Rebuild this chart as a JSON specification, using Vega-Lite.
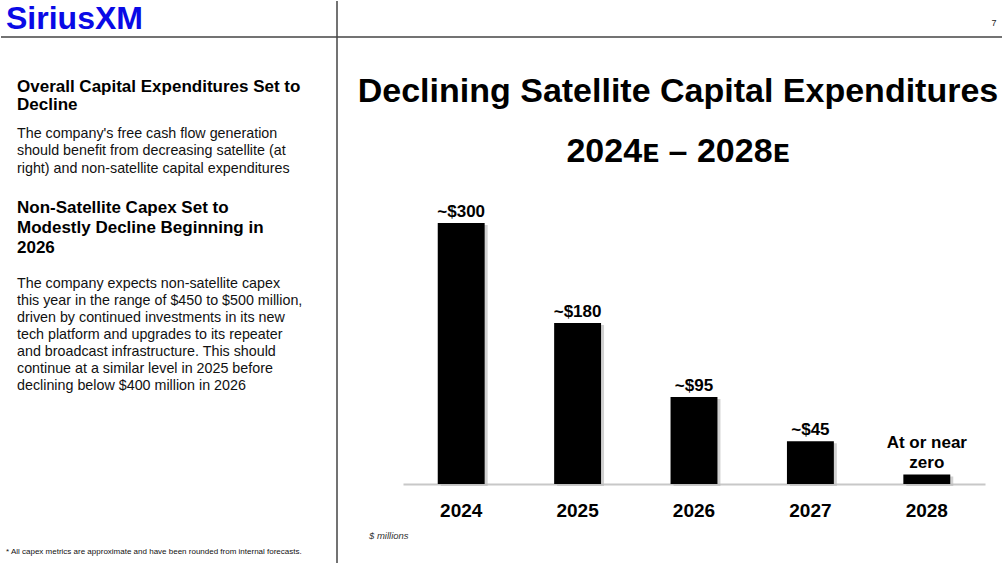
{
  "$schema": "https://vega.github.io/schema/vega-lite/v6.json",
  "background": "white",
  "padding": 0,
  "spacing": 0,
  "bounds": "flush",
  "columns": 2,
  "config": {
    "view": {"stroke": null},
    "font": "Liberation Sans",
    "text": {"font": "Liberation Sans"},
    "concat": {"spacing": 0}
  },
  "concat": [
    {
      "width": 336,
      "height": 36,
      "data": {"values": [{"logo": "SiriusXM"}]},
      "layer": [
        {
          "mark": {"type": "rule", "stroke": "#444444", "strokeWidth": 1.5},
          "encoding": {"y": {"datum": 36, "type": "quantitative", "scale": {"domain": [0, 36], "range": [0, 36]}, "axis": null}}
        },
        {
          "mark": {"type": "rule", "stroke": "#444444", "strokeWidth": 1.5},
          "encoding": {"x": {"datum": 336, "type": "quantitative", "scale": {"domain": [0, 336], "range": [0, 336]}, "axis": null}}
        },
        {
          "mark": {"type": "text", "align": "left", "baseline": "alphabetic", "fontSize": 32, "fontWeight": "bold", "color": "#0a0ae6"},
          "encoding": {
            "text": {"field": "logo"},
            "x": {"datum": 5, "type": "quantitative", "scale": {"domain": [0, 336], "range": [0, 336]}, "axis": null},
            "y": {"datum": 28, "type": "quantitative", "scale": {"domain": [0, 36], "range": [0, 36]}, "axis": null}
          }
        }
      ]
    },
    {
      "width": 666,
      "height": 36,
      "data": {"values": [{"page": "7"}]},
      "layer": [
        {
          "mark": {"type": "rule", "stroke": "#444444", "strokeWidth": 1.5},
          "encoding": {"y": {"datum": 36, "type": "quantitative", "scale": {"domain": [0, 36], "range": [0, 36]}, "axis": null}}
        },
        {
          "mark": {"type": "text", "align": "center", "baseline": "alphabetic", "fontSize": 9, "color": "#222222"},
          "encoding": {
            "text": {"field": "page"},
            "x": {"datum": 657, "type": "quantitative", "scale": {"domain": [0, 666], "range": [0, 666]}, "axis": null},
            "y": {"datum": 25, "type": "quantitative", "scale": {"domain": [0, 36], "range": [0, 36]}, "axis": null}
          }
        }
      ]
    },
    {
      "width": 336,
      "height": 527,
      "data": {"values": [
        {"block": "heading1", "lines": ["Overall Capital Expenditures Set to", "Decline"]},
        {"block": "body1", "lines": ["The company's free cash flow generation", "should benefit from decreasing satellite (at", "right) and non-satellite capital expenditures"]},
        {"block": "heading2", "lines": ["Non-Satellite Capex Set to", "Modestly Decline Beginning in", "2026"]},
        {"block": "body2", "lines": ["The company expects non-satellite capex", "this year in the range of $450 to $500 million,", "driven by continued investments in its new", "tech platform and upgrades to its repeater", "and broadcast infrastructure. This should", "continue at a similar level in 2025 before", "declining below $400 million in 2026"]},
        {"block": "footnote", "lines": ["* All capex metrics are approximate and have been rounded from internal forecasts."]}
      ]},
      "layer": [
        {
          "transform": [{"filter": "datum.block === 'heading1'"}],
          "mark": {"type": "rule", "stroke": "#444444", "strokeWidth": 1.5},
          "encoding": {"x": {"datum": 336, "type": "quantitative", "scale": {"domain": [0, 336], "range": [0, 336]}, "axis": null}}
        },
        {
          "transform": [{"filter": "datum.block === 'heading1'"}],
          "mark": {"type": "text", "align": "left", "baseline": "alphabetic", "fontSize": 17, "fontWeight": "bold", "color": "#000000", "lineHeight": 18},
          "encoding": {
            "text": {"field": "lines"},
            "x": {"datum": 16, "type": "quantitative", "scale": {"domain": [0, 336], "range": [0, 336]}, "axis": null},
            "y": {"datum": 55, "type": "quantitative", "scale": {"domain": [0, 527], "range": [0, 527]}, "axis": null}
          }
        },
        {
          "transform": [{"filter": "datum.block === 'body1'"}],
          "mark": {"type": "text", "align": "left", "baseline": "alphabetic", "fontSize": 14.3, "color": "#111111", "lineHeight": 17.3},
          "encoding": {
            "text": {"field": "lines"},
            "x": {"datum": 16, "type": "quantitative", "scale": {"domain": [0, 336], "range": [0, 336]}, "axis": null},
            "y": {"datum": 101, "type": "quantitative", "scale": {"domain": [0, 527], "range": [0, 527]}, "axis": null}
          }
        },
        {
          "transform": [{"filter": "datum.block === 'heading2'"}],
          "mark": {"type": "text", "align": "left", "baseline": "alphabetic", "fontSize": 17, "fontWeight": "bold", "color": "#000000", "lineHeight": 20},
          "encoding": {
            "text": {"field": "lines"},
            "x": {"datum": 16, "type": "quantitative", "scale": {"domain": [0, 336], "range": [0, 336]}, "axis": null},
            "y": {"datum": 176, "type": "quantitative", "scale": {"domain": [0, 527], "range": [0, 527]}, "axis": null}
          }
        },
        {
          "transform": [{"filter": "datum.block === 'body2'"}],
          "mark": {"type": "text", "align": "left", "baseline": "alphabetic", "fontSize": 14.3, "color": "#111111", "lineHeight": 17},
          "encoding": {
            "text": {"field": "lines"},
            "x": {"datum": 16, "type": "quantitative", "scale": {"domain": [0, 336], "range": [0, 336]}, "axis": null},
            "y": {"datum": 251, "type": "quantitative", "scale": {"domain": [0, 527], "range": [0, 527]}, "axis": null}
          }
        },
        {
          "transform": [{"filter": "datum.block === 'footnote'"}],
          "mark": {"type": "text", "align": "left", "baseline": "alphabetic", "fontSize": 8, "color": "#111111"},
          "encoding": {
            "text": {"field": "lines"},
            "x": {"datum": 5, "type": "quantitative", "scale": {"domain": [0, 336], "range": [0, 336]}, "axis": null},
            "y": {"datum": 517, "type": "quantitative", "scale": {"domain": [0, 527], "range": [0, 527]}, "axis": null}
          }
        }
      ]
    },
    {
      "width": 666,
      "height": 527,
      "data": {"values": [
        {"year": "2024", "capex": 300, "label": "~$300", "label_top": ""},
        {"year": "2025", "capex": 185, "label": "~$180", "label_top": ""},
        {"year": "2026", "capex": 100, "label": "~$95", "label_top": ""},
        {"year": "2027", "capex": 49, "label": "~$45", "label_top": ""},
        {"year": "2028", "capex": 11, "label": "zero", "label_top": "At or near"}
      ]},
      "resolve": {"scale": {"x": "independent", "y": "independent"}},
      "layer": [
        {
          "mark": {"type": "bar", "color": "#bdbdbd", "opacity": 0.7, "xOffset": 3, "yOffset": 2},
          "encoding": {
            "x": {"field": "year", "type": "nominal", "scale": {"type": "band", "domain": ["2024", "2025", "2026", "2027", "2028"], "range": [66, 648], "paddingInner": 0.597, "paddingOuter": 0.2985}, "axis": null},
            "y": {"field": "capex", "type": "quantitative", "scale": {"domain": [0, 300], "range": [447, 186], "nice": false, "zero": true}, "axis": null}
          }
        },
        {
          "mark": {"type": "bar", "color": "#000000"},
          "encoding": {
            "x": {
              "field": "year", "type": "nominal",
              "scale": {"type": "band", "domain": ["2024", "2025", "2026", "2027", "2028"], "range": [66, 648], "paddingInner": 0.597, "paddingOuter": 0.2985},
              "axis": {"orient": "bottom", "offset": -80, "title": null, "domainColor": "#c8c8c8", "domainWidth": 2, "ticks": false, "grid": false, "labelAngle": 0, "labelFont": "Liberation Sans", "labelFontSize": 19, "labelFontWeight": "bold", "labelColor": "#000000", "labelPadding": 17}
            },
            "y": {"field": "capex", "type": "quantitative", "scale": {"domain": [0, 300], "range": [447, 186], "nice": false, "zero": true}, "axis": null}
          }
        },
        {
          "mark": {"type": "text", "align": "center", "baseline": "bottom", "dy": -2, "fontSize": 17, "fontWeight": "bold", "color": "#000000"},
          "encoding": {
            "text": {"field": "label"},
            "x": {"field": "year", "type": "nominal", "scale": {"type": "band", "domain": ["2024", "2025", "2026", "2027", "2028"], "range": [66, 648], "paddingInner": 0.597, "paddingOuter": 0.2985}, "axis": null},
            "y": {"field": "capex", "type": "quantitative", "scale": {"domain": [0, 300], "range": [447, 186], "nice": false, "zero": true}, "axis": null}
          }
        },
        {
          "mark": {"type": "text", "align": "center", "baseline": "bottom", "dy": -22, "fontSize": 17, "fontWeight": "bold", "color": "#000000"},
          "encoding": {
            "text": {"field": "label_top"},
            "x": {"field": "year", "type": "nominal", "scale": {"type": "band", "domain": ["2024", "2025", "2026", "2027", "2028"], "range": [66, 648], "paddingInner": 0.597, "paddingOuter": 0.2985}, "axis": null},
            "y": {"field": "capex", "type": "quantitative", "scale": {"domain": [0, 300], "range": [447, 186], "nice": false, "zero": true}, "axis": null}
          }
        },
        {
          "data": {"values": [{"title": "Declining Satellite Capital Expenditures"}]},
          "mark": {"type": "text", "align": "center", "baseline": "alphabetic", "fontSize": 34, "fontWeight": "bold", "color": "#000000"},
          "encoding": {
            "text": {"field": "title"},
            "x": {"datum": 341, "type": "quantitative", "scale": {"domain": [0, 666], "range": [0, 666]}, "axis": null},
            "y": {"datum": 65, "type": "quantitative", "scale": {"domain": [0, 527], "range": [0, 527]}, "axis": null}
          }
        },
        {
          "data": {"values": [{"subtitle": "2024ᴇ – 2028ᴇ"}]},
          "mark": {"type": "text", "align": "center", "baseline": "alphabetic", "fontSize": 34, "fontWeight": "bold", "color": "#000000"},
          "encoding": {
            "text": {"field": "subtitle"},
            "x": {"datum": 341, "type": "quantitative", "scale": {"domain": [0, 666], "range": [0, 666]}, "axis": null},
            "y": {"datum": 125, "type": "quantitative", "scale": {"domain": [0, 527], "range": [0, 527]}, "axis": null}
          }
        },
        {
          "data": {"values": [{"unit": "$ millions"}]},
          "mark": {"type": "text", "align": "left", "baseline": "alphabetic", "fontSize": 9.5, "fontStyle": "italic", "color": "#333333"},
          "encoding": {
            "text": {"field": "unit"},
            "x": {"datum": 32, "type": "quantitative", "scale": {"domain": [0, 666], "range": [0, 666]}, "axis": null},
            "y": {"datum": 502, "type": "quantitative", "scale": {"domain": [0, 527], "range": [0, 527]}, "axis": null}
          }
        }
      ]
    }
  ]
}
